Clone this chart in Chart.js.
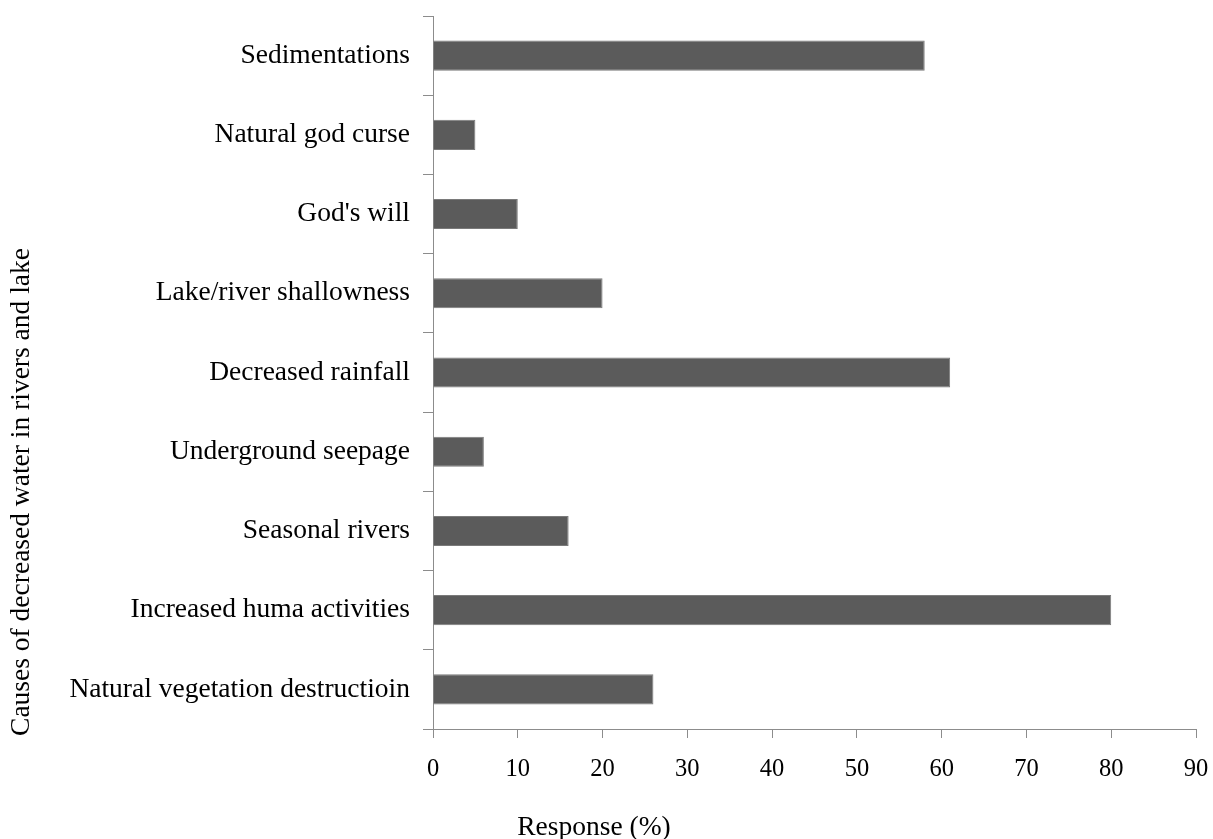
<!DOCTYPE html>
<html>
<head>
<meta charset="utf-8">
<title>Causes of decreased water in rivers and lake</title>
<script src="https://cdn.jsdelivr.net/npm/chart.js@4/dist/chart.umd.min.js"></script>
<style>
  html, body { margin: 0; padding: 0; background: #ffffff; }
  #wrap { width: 1213px; height: 839px; }
</style>
</head>
<body>
<div id="wrap"><canvas id="chart" width="1213" height="839"></canvas></div>
<script>
// Survey results: causes of decreased water, share of respondents (%)
const categories = [
  'Sedimentations',
  'Natural god curse',
  "God's will",
  'Lake/river shallowness',
  'Decreased rainfall',
  'Underground seepage',
  'Seasonal rivers',
  'Increased huma activities',
  'Natural vegetation destructioin'
];
const responses = [58, 5, 10, 20, 61, 6, 16, 80, 26];
const xTicks = [0, 10, 20, 30, 40, 50, 60, 70, 80, 90];
const yTitle = 'Causes of decreased water in rivers and lake';
const xTitle = 'Response (%)';

const serif = "'Liberation Serif', 'Times New Roman', serif";
const axisGray = '#8c8c8c';

// Axis titles placed freely around the plot
const axisTitles = {
  id: 'axisTitles',
  afterDraw(chart) {
    const ctx = chart.ctx;
    const area = chart.chartArea;
    ctx.save();
    ctx.fillStyle = '#000000';
    ctx.font = '27.5px ' + serif;
    ctx.textAlign = 'center';
    ctx.textBaseline = 'middle';
    ctx.fillText(xTitle, area.left + 161, area.bottom + 99);
    ctx.translate(22, area.bottom - 237);
    ctx.rotate(-Math.PI / 2);
    ctx.fillText(yTitle, 0, 0);
    ctx.restore();
  }
};

new Chart(document.getElementById('chart'), {
  type: 'bar',
  data: {
    labels: categories,
    datasets: [{
      data: responses,
      backgroundColor: '#5b5b5b',
      borderColor: '#7a7a7a',
      borderWidth: 1,
      categoryPercentage: 1,
      barPercentage: 0.38
    }]
  },
  options: {
    indexAxis: 'y',
    responsive: false,
    animation: false,
    devicePixelRatio: 1,
    layout: { padding: { top: 16, right: 17, left: 0, bottom: 0 } },
    plugins: {
      legend: { display: false },
      tooltip: { enabled: false }
    },
    scales: {
      x: {
        type: 'linear',
        min: 0,
        max: 90,
        afterBuildTicks(scale) { scale.ticks = xTicks.map(v => ({ value: v })); },
        afterFit(scale) {
          scale.height = 110;
          scale.paddingLeft = 0;
          scale.paddingRight = 0;
        },
        ticks: {
          color: '#000000',
          font: { family: serif, size: 24.5 },
          padding: 17,
          maxRotation: 0
        },
        grid: {
          drawOnChartArea: false,
          drawTicks: true,
          tickLength: 9,
          color: axisGray,
          lineWidth: 1
        },
        border: { display: true, color: axisGray, width: 1 }
      },
      y: {
        afterFit(scale) {
          scale.width = 433;
          scale.paddingTop = 0;
          scale.paddingBottom = 0;
        },
        ticks: {
          color: '#000000',
          font: { family: serif, size: 27.5 },
          padding: 13,
          autoSkip: false
        },
        grid: {
          offset: true,
          drawOnChartArea: false,
          drawTicks: true,
          tickLength: 10,
          color: axisGray,
          lineWidth: 1
        },
        border: { display: true, color: axisGray, width: 1 }
      }
    }
  },
  plugins: [axisTitles]
});
</script>
</body>
</html>
